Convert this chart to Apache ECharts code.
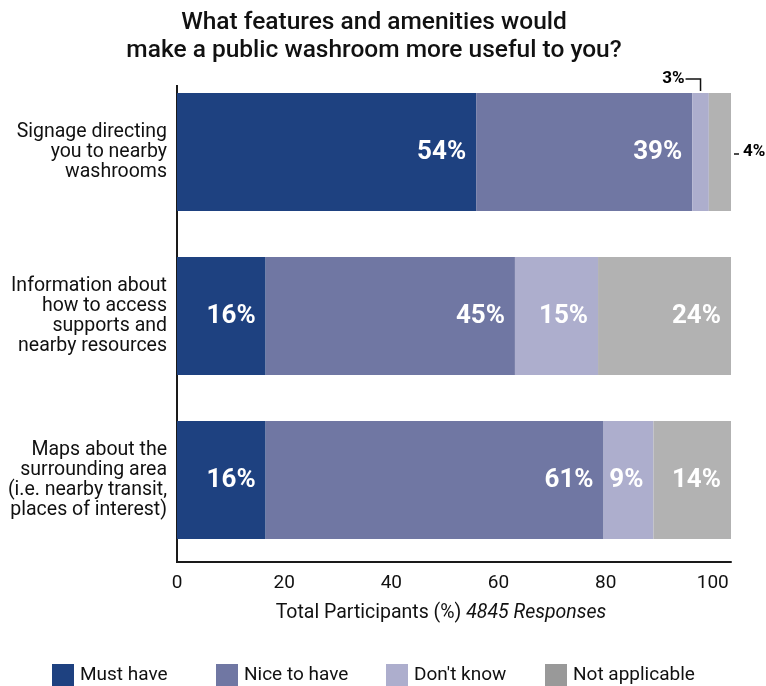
<!DOCTYPE html>
<html>
<head>
<meta charset="utf-8">
<style>
  html, body { margin: 0; padding: 0; background: #fff; }
  #chart { width: 766px; height: 686px; }
</style>
<script src="https://cdn.jsdelivr.net/npm/echarts@6/dist/echarts.min.js"></script>
</head>
<body>
<div id="chart"></div>
<script>
// Survey responses: share of participants per answer, by feature
const categories = [
  'Signage directing\nyou to nearby\nwashrooms',
  'Information about\nhow to access\nsupports and\nnearby resources',
  'Maps about the\nsurrounding area\n(i.e. nearby transit,\nplaces of interest)'
];
const seriesNames = ['Must have', 'Nice to have', "Don't know", 'Not applicable'];
const mustHave = [54, 16, 16];
const niceToHave = [39, 45, 61];
const dontKnow = [3, 15, 9];
const notApplicable = [4, 24, 14];
const xTickStep = 20;

const FONT = 'Roboto, "Noto Sans", sans-serif';
const colors = ['#1e4180', '#7077a3', '#adaecd', '#b2b2b2'];
const legendColors = ['#1e4180', '#7077a3', '#adaecd', '#999999'];

const chart = echarts.init(document.getElementById('chart'), null, { renderer: 'canvas' });

const insideLabel = {
  show: true,
  position: 'insideRight',
  distance: 10,
  color: '#ffffff',
  fontFamily: FONT,
  fontWeight: 'bold',
  fontSize: 26,
  formatter: p => p.value + '%'
};

// narrow segments on the first bar get their labels outside
const outsideLabelBase = {
  show: true,
  color: '#000000',
  fontFamily: FONT,
  fontWeight: 'bold',
  fontSize: 17,
  formatter: p => p.value + '%'
};

const dontKnowData = dontKnow.map((v, i) => i === 0
  ? { value: v, label: Object.assign({}, outsideLabelBase, { position: 'top', distance: 6, offset: [-27, 0] }) }
  : v);
const notApplicableData = notApplicable.map((v, i) => i === 0
  ? { value: v, label: Object.assign({}, outsideLabelBase, { position: 'right', distance: 12 }) }
  : v);

function barSeries(name, data, color) {
  return {
    name: name,
    type: 'bar',
    stack: 'total',
    xAxisIndex: 0,
    yAxisIndex: 0,
    barCategoryGap: '28%',
    data: data,
    itemStyle: { color: color },
    label: insideLabel,
    emphasis: { disabled: true },
    animation: false
  };
}

function legendAt(idx, left) {
  return {
    left: left,
    top: 664,
    padding: 0,
    icon: 'rect',
    itemWidth: 22,
    itemHeight: 22,
    itemGap: 0,
    selectedMode: false,
    textStyle: { fontFamily: FONT, fontSize: 19, color: '#111111', padding: [0, 0, 0, 1] },
    data: [{ name: seriesNames[idx], itemStyle: { color: legendColors[idx] } }]
  };
}

const option = {
  backgroundColor: '#ffffff',
  animation: false,
  grid: { left: 177, right: 35, top: 70, bottom: 124, containLabel: false },
  legend: [legendAt(0, 52), legendAt(1, 216), legendAt(2, 386), legendAt(3, 545)],
  xAxis: [
    {
      // scale used by the bars
      type: 'value', min: 0, max: 100, show: false, position: 'bottom'
    },
    {
      // printed percentage scale
      type: 'value', min: 0, max: 103.4, interval: xTickStep, position: 'bottom',
      axisLine: { show: true, lineStyle: { color: '#1a1a1a', width: 2 } },
      axisTick: { show: false },
      splitLine: { show: false },
      axisLabel: {
        showMaxLabel: false,
        margin: 12,
        fontFamily: FONT, fontSize: 19, color: '#111111',
        formatter: v => (v % xTickStep === 0 ? String(v) : '')
      },
      name: '{a|Total Participants (%) }{b|4845 Responses}',
      nameLocation: 'middle',
      nameGap: 41,
      nameTextStyle: {
        padding: [0, 26, 0, 0],
        rich: {
          a: { fontFamily: FONT, fontSize: 19.5, color: '#111111' },
          b: { fontFamily: FONT, fontSize: 19.5, color: '#111111', fontStyle: 'italic' }
        }
      }
    }
  ],
  yAxis: {
    type: 'category',
    inverse: true,
    data: categories,
    axisLine: { show: false },
    axisTick: { show: false },
    axisLabel: {
      margin: 10,
      fontFamily: FONT, fontSize: 19.5, lineHeight: 20, color: '#111111', align: 'right'
    }
  },
  series: [
    barSeries(seriesNames[0], mustHave, colors[0]),
    barSeries(seriesNames[1], niceToHave, colors[1]),
    barSeries(seriesNames[2], dontKnowData, colors[2]),
    barSeries(seriesNames[3], notApplicableData, colors[3])
  ],
  graphic: []
};

chart.setOption(option);

// Title, left axis line and leader lines for the outside labels
const finder = { xAxisIndex: 0, yAxisIndex: 0 };
const c0 = chart.convertToPixel(finder, [0, 0]);
const c1 = chart.convertToPixel(finder, [0, 1]);
const band = c1[1] - c0[1];
const halfBar = band * 0.72 / 2;
const barTop = c0[1] - halfBar;
const gridBottom = chart.convertToPixel(finder, [0, 2])[1] + band / 2;

const dkCenter = chart.convertToPixel(finder, [mustHave[0] + niceToHave[0] + dontKnow[0] / 2, 0]);
const naEnd = chart.convertToPixel(finder, [mustHave[0] + niceToHave[0] + dontKnow[0] + notApplicable[0], 0]);
const leaderY = barTop - 14;

chart.setOption({
  graphic: [
    {
      type: 'text', x: 374, y: 9,
      style: {
        text: 'What features and amenities would\nmake a public washroom more useful to you?',
        textAlign: 'center',
        fontFamily: FONT, fontSize: 24.5, fontWeight: 500, lineHeight: 28,
        fill: '#111111'
      }
    },
    {
      type: 'line',
      shape: { x1: c0[0], y1: barTop - 8, x2: c0[0], y2: gridBottom + 1 },
      style: { stroke: '#1a1a1a', lineWidth: 2 }
    },
    {
      type: 'polyline',
      shape: { points: [[dkCenter[0] - 15, leaderY], [dkCenter[0], leaderY], [dkCenter[0], barTop - 2]] },
      style: { stroke: '#111111', lineWidth: 1.5, fill: null }
    },
    {
      type: 'line',
      shape: { x1: naEnd[0] + 3, y1: c0[1] + 2, x2: naEnd[0] + 8, y2: c0[1] + 2 },
      style: { stroke: '#111111', lineWidth: 1.5 }
    }
  ]
});
</script>
</body>
</html>
